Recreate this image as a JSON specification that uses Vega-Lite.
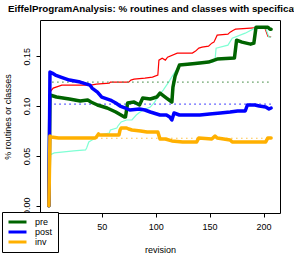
{
  "$schema": "https://vega.github.io/schema/vega-lite/v6.json",
  "autosize": "none",
  "width": 240,
  "height": 193,
  "padding": {"left": 40, "top": 20, "right": 14, "bottom": 41},
  "background": "white",
  "config": {
    "font": "Liberation Sans",
    "view": {"stroke": "black", "strokeWidth": 1},
    "axis": {"labelColor": "black", "titleColor": "black", "tickColor": "black", "labelFont": "Liberation Sans", "titleFont": "Liberation Sans"}
  },
  "title": {
    "text": "EiffelProgramAnalysis: % routines and classes with specification",
    "anchor": "start", "frame": "group", "dx": -32, "dy": 8, "offset": 4.5, "baseline": "bottom",
    "fontSize": 9.8, "fontWeight": "bold", "font": "Liberation Sans", "color": "black"
  },
  "datasets": {
    "series": [
      {"series": "pre", "rev": 1, "value": 0}, {"series": "pre", "rev": 2, "value": 0.111}, {"series": "pre", "rev": 8, "value": 0.109}, {"series": "pre", "rev": 20, "value": 0.107}, {"series": "pre", "rev": 30, "value": 0.105}, {"series": "pre", "rev": 37, "value": 0.106}, {"series": "pre", "rev": 40, "value": 0.104}, {"series": "pre", "rev": 46, "value": 0.101}, {"series": "pre", "rev": 55, "value": 0.098}, {"series": "pre", "rev": 63, "value": 0.094}, {"series": "pre", "rev": 71, "value": 0.089}, {"series": "pre", "rev": 72, "value": 0.089}, {"series": "pre", "rev": 74, "value": 0.103}, {"series": "pre", "rev": 80, "value": 0.104}, {"series": "pre", "rev": 85, "value": 0.101}, {"series": "pre", "rev": 88, "value": 0.108}, {"series": "pre", "rev": 95, "value": 0.107}, {"series": "pre", "rev": 101, "value": 0.109}, {"series": "pre", "rev": 104, "value": 0.113}, {"series": "pre", "rev": 110, "value": 0.108}, {"series": "pre", "rev": 115, "value": 0.104}, {"series": "pre", "rev": 116, "value": 0.119}, {"series": "pre", "rev": 118, "value": 0.13}, {"series": "pre", "rev": 122, "value": 0.141}, {"series": "pre", "rev": 132, "value": 0.142}, {"series": "pre", "rev": 141, "value": 0.143}, {"series": "pre", "rev": 149, "value": 0.144}, {"series": "pre", "rev": 157, "value": 0.147}, {"series": "pre", "rev": 173, "value": 0.148}, {"series": "pre", "rev": 175, "value": 0.166}, {"series": "pre", "rev": 180, "value": 0.164}, {"series": "pre", "rev": 188, "value": 0.162}, {"series": "pre", "rev": 191, "value": 0.163}, {"series": "pre", "rev": 193, "value": 0.179}, {"series": "pre", "rev": 204, "value": 0.179}, {"series": "pre", "rev": 206, "value": 0.177}, {"series": "pre", "rev": 207, "value": 0.177},
      {"series": "post", "rev": 1, "value": 0}, {"series": "post", "rev": 2, "value": 0.134}, {"series": "post", "rev": 4, "value": 0.133}, {"series": "post", "rev": 7, "value": 0.131}, {"series": "post", "rev": 12, "value": 0.129}, {"series": "post", "rev": 20, "value": 0.126}, {"series": "post", "rev": 30, "value": 0.124}, {"series": "post", "rev": 39, "value": 0.121}, {"series": "post", "rev": 41, "value": 0.118}, {"series": "post", "rev": 46, "value": 0.114}, {"series": "post", "rev": 50, "value": 0.109}, {"series": "post", "rev": 58, "value": 0.106}, {"series": "post", "rev": 63, "value": 0.103}, {"series": "post", "rev": 67, "value": 0.1}, {"series": "post", "rev": 72, "value": 0.098}, {"series": "post", "rev": 76, "value": 0.096}, {"series": "post", "rev": 85, "value": 0.097}, {"series": "post", "rev": 90, "value": 0.096}, {"series": "post", "rev": 95, "value": 0.094}, {"series": "post", "rev": 104, "value": 0.091}, {"series": "post", "rev": 110, "value": 0.091}, {"series": "post", "rev": 113, "value": 0.089}, {"series": "post", "rev": 115, "value": 0.086}, {"series": "post", "rev": 117, "value": 0.093}, {"series": "post", "rev": 122, "value": 0.091}, {"series": "post", "rev": 141, "value": 0.091}, {"series": "post", "rev": 150, "value": 0.092}, {"series": "post", "rev": 160, "value": 0.093}, {"series": "post", "rev": 169, "value": 0.094}, {"series": "post", "rev": 176, "value": 0.095}, {"series": "post", "rev": 183, "value": 0.095}, {"series": "post", "rev": 185, "value": 0.101}, {"series": "post", "rev": 192, "value": 0.101}, {"series": "post", "rev": 196, "value": 0.1}, {"series": "post", "rev": 202, "value": 0.099}, {"series": "post", "rev": 205, "value": 0.097}, {"series": "post", "rev": 207, "value": 0.098},
      {"series": "inv", "rev": 1, "value": 0}, {"series": "inv", "rev": 2, "value": 0.07}, {"series": "inv", "rev": 3, "value": 0.069}, {"series": "inv", "rev": 10, "value": 0.068}, {"series": "inv", "rev": 44, "value": 0.068}, {"series": "inv", "rev": 45, "value": 0.069}, {"series": "inv", "rev": 47, "value": 0.072}, {"series": "inv", "rev": 48, "value": 0.071}, {"series": "inv", "rev": 66, "value": 0.071}, {"series": "inv", "rev": 67, "value": 0.076}, {"series": "inv", "rev": 68, "value": 0.078}, {"series": "inv", "rev": 73, "value": 0.078}, {"series": "inv", "rev": 75, "value": 0.077}, {"series": "inv", "rev": 78, "value": 0.076}, {"series": "inv", "rev": 86, "value": 0.075}, {"series": "inv", "rev": 92, "value": 0.074}, {"series": "inv", "rev": 102, "value": 0.074}, {"series": "inv", "rev": 104, "value": 0.067}, {"series": "inv", "rev": 109, "value": 0.067}, {"series": "inv", "rev": 115, "value": 0.065}, {"series": "inv", "rev": 125, "value": 0.064}, {"series": "inv", "rev": 138, "value": 0.064}, {"series": "inv", "rev": 140, "value": 0.068}, {"series": "inv", "rev": 152, "value": 0.067}, {"series": "inv", "rev": 155, "value": 0.07}, {"series": "inv", "rev": 157, "value": 0.068}, {"series": "inv", "rev": 169, "value": 0.066}, {"series": "inv", "rev": 171, "value": 0.064}, {"series": "inv", "rev": 202, "value": 0.064}, {"series": "inv", "rev": 204, "value": 0.068}, {"series": "inv", "rev": 207, "value": 0.068},
      {"series": "classes", "rev": 1, "value": 0}, {"series": "classes", "rev": 2, "value": 0.114}, {"series": "classes", "rev": 5, "value": 0.118}, {"series": "classes", "rev": 13, "value": 0.121}, {"series": "classes", "rev": 40, "value": 0.121}, {"series": "classes", "rev": 45, "value": 0.122}, {"series": "classes", "rev": 57, "value": 0.123}, {"series": "classes", "rev": 58, "value": 0.124}, {"series": "classes", "rev": 75, "value": 0.124}, {"series": "classes", "rev": 77, "value": 0.126}, {"series": "classes", "rev": 80, "value": 0.127}, {"series": "classes", "rev": 90, "value": 0.128}, {"series": "classes", "rev": 97, "value": 0.129}, {"series": "classes", "rev": 102, "value": 0.131}, {"series": "classes", "rev": 103, "value": 0.146}, {"series": "classes", "rev": 106, "value": 0.148}, {"series": "classes", "rev": 109, "value": 0.146}, {"series": "classes", "rev": 111, "value": 0.149}, {"series": "classes", "rev": 120, "value": 0.153}, {"series": "classes", "rev": 134, "value": 0.153}, {"series": "classes", "rev": 137, "value": 0.155}, {"series": "classes", "rev": 140, "value": 0.158}, {"series": "classes", "rev": 143, "value": 0.159}, {"series": "classes", "rev": 149, "value": 0.16}, {"series": "classes", "rev": 152, "value": 0.163}, {"series": "classes", "rev": 154, "value": 0.164}, {"series": "classes", "rev": 157, "value": 0.171}, {"series": "classes", "rev": 167, "value": 0.172}, {"series": "classes", "rev": 169, "value": 0.174}, {"series": "classes", "rev": 172, "value": 0.176}, {"series": "classes", "rev": 174, "value": 0.177}, {"series": "classes", "rev": 188, "value": 0.178}, {"series": "classes", "rev": 201, "value": 0.179}, {"series": "classes", "rev": 204, "value": 0.17}, {"series": "classes", "rev": 207, "value": 0.169},
      {"series": "routines", "rev": 1, "value": 0}, {"series": "routines", "rev": 2, "value": 0.051}, {"series": "routines", "rev": 6, "value": 0.053}, {"series": "routines", "rev": 15, "value": 0.054}, {"series": "routines", "rev": 24, "value": 0.055}, {"series": "routines", "rev": 35, "value": 0.056}, {"series": "routines", "rev": 36, "value": 0.058}, {"series": "routines", "rev": 38, "value": 0.064}, {"series": "routines", "rev": 41, "value": 0.066}, {"series": "routines", "rev": 45, "value": 0.068}, {"series": "routines", "rev": 47, "value": 0.071}, {"series": "routines", "rev": 57, "value": 0.073}, {"series": "routines", "rev": 58, "value": 0.076}, {"series": "routines", "rev": 64, "value": 0.078}, {"series": "routines", "rev": 65, "value": 0.08}, {"series": "routines", "rev": 68, "value": 0.084}, {"series": "routines", "rev": 73, "value": 0.086}, {"series": "routines", "rev": 78, "value": 0.086}, {"series": "routines", "rev": 82, "value": 0.091}, {"series": "routines", "rev": 88, "value": 0.096}, {"series": "routines", "rev": 95, "value": 0.099}, {"series": "routines", "rev": 99, "value": 0.104}, {"series": "routines", "rev": 103, "value": 0.111}, {"series": "routines", "rev": 107, "value": 0.116}, {"series": "routines", "rev": 112, "value": 0.124}, {"series": "routines", "rev": 116, "value": 0.131}, {"series": "routines", "rev": 119, "value": 0.136}, {"series": "routines", "rev": 122, "value": 0.141}, {"series": "routines", "rev": 132, "value": 0.143}, {"series": "routines", "rev": 141, "value": 0.144}, {"series": "routines", "rev": 153, "value": 0.144}, {"series": "routines", "rev": 155, "value": 0.146}, {"series": "routines", "rev": 156, "value": 0.158}, {"series": "routines", "rev": 167, "value": 0.161}, {"series": "routines", "rev": 171, "value": 0.168}, {"series": "routines", "rev": 183, "value": 0.173}, {"series": "routines", "rev": 192, "value": 0.178}, {"series": "routines", "rev": 202, "value": 0.178}, {"series": "routines", "rev": 205, "value": 0.169}, {"series": "routines", "rev": 207, "value": 0.169}
    ],
    "means": [
      {"series": "pre", "rev": 4, "value": 0.124}, {"series": "pre", "rev": 207, "value": 0.124},
      {"series": "post", "rev": 6, "value": 0.102}, {"series": "post", "rev": 207, "value": 0.102},
      {"series": "inv", "rev": 3, "value": 0.0677}, {"series": "inv", "rev": 207, "value": 0.0677}
    ]
  },
  "encoding": {
    "x": {
      "field": "rev", "type": "quantitative",
      "scale": {"domain": [-7.24, 215.24], "nice": false, "zero": false},
      "axis": {"values": [50, 100, 150, 200], "domain": false, "grid": false, "tickSize": 4, "labelFontSize": 9, "labelPadding": 5.5, "labelFlush": false, "labelOverlap": false, "title": "revision", "titleFontSize": 9, "titleFontWeight": "normal", "titleX": 120, "titleY": 36, "titleBaseline": "middle", "titleAlign": "center"}
    },
    "y": {
      "field": "value", "type": "quantitative",
      "scale": {"domain": [-0.0072, 0.1862], "nice": false, "zero": false},
      "axis": {"values": [0, 0.05, 0.1, 0.15], "format": ".2f", "domain": false, "grid": false, "tickSize": 4, "labelAngle": -90, "labelAlign": "center", "labelBaseline": "bottom", "labelPadding": 4.5, "labelFontSize": 9, "labelOverlap": false, "title": "% routines or classes", "titleFontSize": 9, "titleFontWeight": "normal", "titleAngle": -90, "titleAlign": "center", "titleBaseline": "middle", "titleX": -33, "titleY": 96.5}
    }
  },
  "layer": [
    {
      "data": {"name": "series"},
      "transform": [{"filter": "datum.series == 'classes'"}],
      "mark": {"type": "line", "color": "#FF0000", "strokeWidth": 1.2, "clip": true}
    },
    {
      "data": {"name": "series"},
      "transform": [{"filter": "datum.series == 'routines'"}],
      "mark": {"type": "line", "color": "#7FFFD4", "strokeWidth": 1.2, "clip": true}
    },
    {
      "data": {"name": "means"},
      "transform": [{"filter": "datum.series == 'pre'"}],
      "mark": {"type": "line", "color": "#5a9a5a", "strokeWidth": 1.2, "strokeDash": [1.5, 3.5]}
    },
    {
      "data": {"name": "means"},
      "transform": [{"filter": "datum.series == 'post'"}],
      "mark": {"type": "line", "color": "#3a3aff", "strokeWidth": 1.2, "strokeDash": [1.5, 3.5]}
    },
    {
      "data": {"name": "means"},
      "transform": [{"filter": "datum.series == 'inv'"}],
      "mark": {"type": "line", "color": "#FFC040", "strokeWidth": 1.2, "strokeDash": [1.5, 3.5]}
    },
    {
      "data": {"name": "series"},
      "transform": [{"filter": "datum.series == 'pre' || datum.series == 'post' || datum.series == 'inv'"}],
      "mark": {"type": "line", "strokeWidth": 3.5, "strokeCap": "round", "strokeJoin": "round", "clip": true},
      "encoding": {
        "color": {
          "field": "series", "type": "nominal",
          "scale": {"domain": ["pre", "post", "inv"], "range": ["#006400", "#0000FF", "#FFB000"]},
          "legend": {"title": null, "orient": "none", "legendX": -38, "legendY": 192, "fillColor": "white", "strokeColor": "black", "padding": 5, "cornerRadius": 0, "symbolType": "stroke", "symbolSize": 324, "symbolStrokeWidth": 3, "clipHeight": 10, "rowPadding": 0, "labelFontSize": 9, "labelOffset": 7, "labelFont": "Liberation Sans", "labelColor": "black"}
        }
      }
    }
  ]
}
